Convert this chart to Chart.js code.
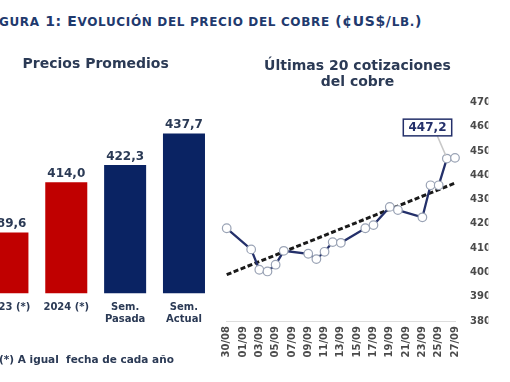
<!DOCTYPE html>
<html><head><meta charset="utf-8">
<script src="https://cdn.jsdelivr.net/npm/chart.js@4.4.1/dist/chart.umd.min.js"></script>
<style>
html,body{margin:0;padding:0;background:#fff;}
body{width:510px;height:382px;position:relative;overflow:hidden;font-family:"DejaVu Sans",Verdana,sans-serif;}
#title{position:absolute;right:88px;top:14px;white-space:nowrap;font-size:14px;line-height:14px;font-weight:bold;color:#1F3A6E;letter-spacing:0.65px;}
#title .sc{font-size:12px;text-transform:uppercase;}
#note{position:absolute;left:-1px;top:353px;white-space:nowrap;font-size:10.5px;line-height:12px;font-weight:bold;color:#2B3A55;}
#left{position:absolute;left:-40px;top:40px;width:260px;height:342px;}
#right{position:absolute;left:205px;top:40px;width:305px;height:342px;}
</style></head>
<body>
<div id="title">F<span class="sc">igura</span> 1: E<span class="sc">volución del precio del cobre</span> (¢US$/<span class="sc">lb.</span>)</div>
<div id="left"><canvas id="c1"></canvas></div>
<div id="right"><canvas id="c2"></canvas></div>
<div id="note">(*) A igual&nbsp; fecha de cada año</div>
<script>
// ---- Bar chart data ----
const barCategories = ['2023 (*)', '2024 (*)', ['Sem.', 'Pasada'], ['Sem.', 'Actual']];
const barValues = [389.6, 414.0, 422.3, 437.7];
const barColors = ['#C00000', '#C00000', '#0A2363', '#0A2363'];

// ---- Line chart data (day offset from 30/08) ----
const lineDates = ['30/08','02/09','03/09','04/09','05/09','06/09','09/09','10/09','11/09','12/09',
                   '13/09','16/09','17/09','19/09','20/09','23/09','24/09','25/09','26/09','27/09'];
const lineDays = [0, 3, 4, 5, 6, 7, 10, 11, 12, 13, 14, 17, 18, 20, 21, 24, 25, 26, 27, 28];
const lineValues = [418.2, 409.5, 401.1, 400.4, 403.2, 408.9, 407.7, 405.5, 408.5, 412.5,
                    412.2, 418.2, 419.5, 427.0, 425.7, 422.7, 435.9, 435.9, 446.9, 447.2];
const trendDays = [0, 28];
const trendValues = [399.1, 436.8];
const xTickLabels = ['30/08','01/09','03/09','05/09','07/09','09/09','11/09','13/09',
                     '15/09','17/09','19/09','21/09','23/09','25/09','27/09'];
const yMin = 380, yMax = 470, yStep = 10;

Chart.defaults.font.family = '"DejaVu Sans", Verdana, sans-serif';
Chart.defaults.animation = false;

const fmt = v => v.toFixed(1).replace('.', ',');

const barValuePlugin = {
  id: 'barValues',
  afterDatasetsDraw(chart) {
    const ctx = chart.ctx;
    const meta = chart.getDatasetMeta(0);
    ctx.save();
    ctx.font = 'bold 12px "DejaVu Sans"';
    ctx.fillStyle = '#2B3A55';
    ctx.textAlign = 'center';
    ctx.textBaseline = 'alphabetic';
    meta.data.forEach((bar, i) => {
      ctx.fillText(fmt(barValues[i]), bar.x, bar.y - 5.5);
    });
    ctx.restore();
  }
};

new Chart(document.getElementById('c1'), {
  type: 'bar',
  data: {
    labels: barCategories,
    datasets: [{
      data: barValues,
      backgroundColor: barColors,
      borderWidth: 0,
      categoryPercentage: 1.0,
      barPercentage: 0.714
    }]
  },
  options: {
    responsive: true,
    maintainAspectRatio: false,
    devicePixelRatio: 1,
    layout: { padding: { left: 18, right: 6.6, top: 0, bottom: 0 } },
    plugins: {
      legend: { display: false },
      tooltip: { enabled: false },
      title: {
        display: true,
        text: 'Precios Promedios',
        color: '#2B3A55',
        font: { size: 14, weight: 'bold', lineHeight: 1.2 },
        padding: { top: 16, bottom: 35.3 }
      }
    },
    scales: {
      x: {
        grid: { display: false, drawTicks: false },
        border: { display: false },
        ticks: {
          color: '#2B3A55',
          padding: 8,
          font: { size: 10, weight: 'bold', lineHeight: 1.2 },
          maxRotation: 0, minRotation: 0, autoSkip: false
        },
        afterFit: s => { s.height = 88.7; }
      },
      y: { display: false, min: 360, max: 450 }
    }
  },
  plugins: [barValuePlugin]
});

const calloutPlugin = {
  id: 'callout',
  afterDatasetsDraw(chart) {
    const meta = chart.getDatasetMeta(0);
    const n = meta.data.length;
    const last = meta.data[n - 1];
    const prev = meta.data[n - 2];
    const ctx = chart.ctx;
    const bx = last.x - 51.7, by = last.y - 38.7, bw = 48.4, bh = 16.7;
    ctx.save();
    ctx.strokeStyle = '#C8C8C8';
    ctx.lineWidth = 1.5;
    ctx.beginPath();
    ctx.moveTo(bx + 34, by + bh);
    ctx.lineTo(prev.x - 1, prev.y - 3);
    ctx.stroke();
    ctx.fillStyle = '#fff';
    ctx.fillRect(bx, by, bw, bh);
    ctx.strokeStyle = '#24306A';
    ctx.lineWidth = 1.5;
    ctx.strokeRect(bx, by, bw, bh);
    ctx.fillStyle = '#24306A';
    ctx.font = 'bold 12px "DejaVu Sans"';
    ctx.textAlign = 'center';
    ctx.textBaseline = 'middle';
    ctx.fillText(fmt(lineValues[n - 1]), bx + bw / 2, by + bh / 2 + 0.5);
    ctx.restore();
  }
};

new Chart(document.getElementById('c2'), {
  type: 'line',
  data: {
    datasets: [
      {
        data: lineDays.map((d, i) => ({ x: d, y: lineValues[i] })),
        borderColor: '#24306A',
        borderWidth: 2.3,
        pointRadius: 4.3,
        pointBackgroundColor: '#FFFFFF',
        pointBorderColor: '#9AA3B5',
        pointBorderWidth: 1.2,
        tension: 0,
        clip: false
      },
      {
        data: trendDays.map((d, i) => ({ x: d, y: trendValues[i] })),
        borderColor: '#1A1A1A',
        borderWidth: 3,
        borderDash: [5, 2.5],
        pointRadius: 0,
        tension: 0,
        clip: false
      }
    ]
  },
  options: {
    responsive: true,
    maintainAspectRatio: false,
    devicePixelRatio: 1,
    layout: { padding: { left: 21.7, right: 21.7, top: 0, bottom: 0 } },
    plugins: {
      legend: { display: false },
      tooltip: { enabled: false },
      title: {
        display: true,
        text: ['Últimas 20 cotizaciones', 'del cobre'],
        color: '#2B3A55',
        font: { size: 14, weight: 'bold', lineHeight: 1.15 },
        padding: { top: 18, bottom: 12.3 }
      }
    },
    scales: {
      x: {
        type: 'linear',
        min: 0, max: 28,
        grid: { display: false, drawTicks: false },
        border: { display: true, color: '#DDDDDD', width: 1 },
        ticks: {
          stepSize: 2, autoSkip: false,
          maxRotation: 90, minRotation: 90,
          padding: 5,
          color: '#4A4A4A',
          font: { size: 10, weight: 'bold' },
          callback: (v, i) => xTickLabels[i]
        },
        afterFit: s => { s.height = 61; }
      },
      y: {
        position: 'right',
        min: yMin, max: yMax,
        grid: { display: false, drawTicks: false },
        border: { display: false },
        ticks: {
          stepSize: yStep,
          padding: 15,
          color: '#4A4A4A',
          font: { size: 10, weight: 'bold' }
        },
        afterFit: s => { s.width = 33.3; }
      }
    }
  },
  plugins: [calloutPlugin]
});
</script>
</body></html>
